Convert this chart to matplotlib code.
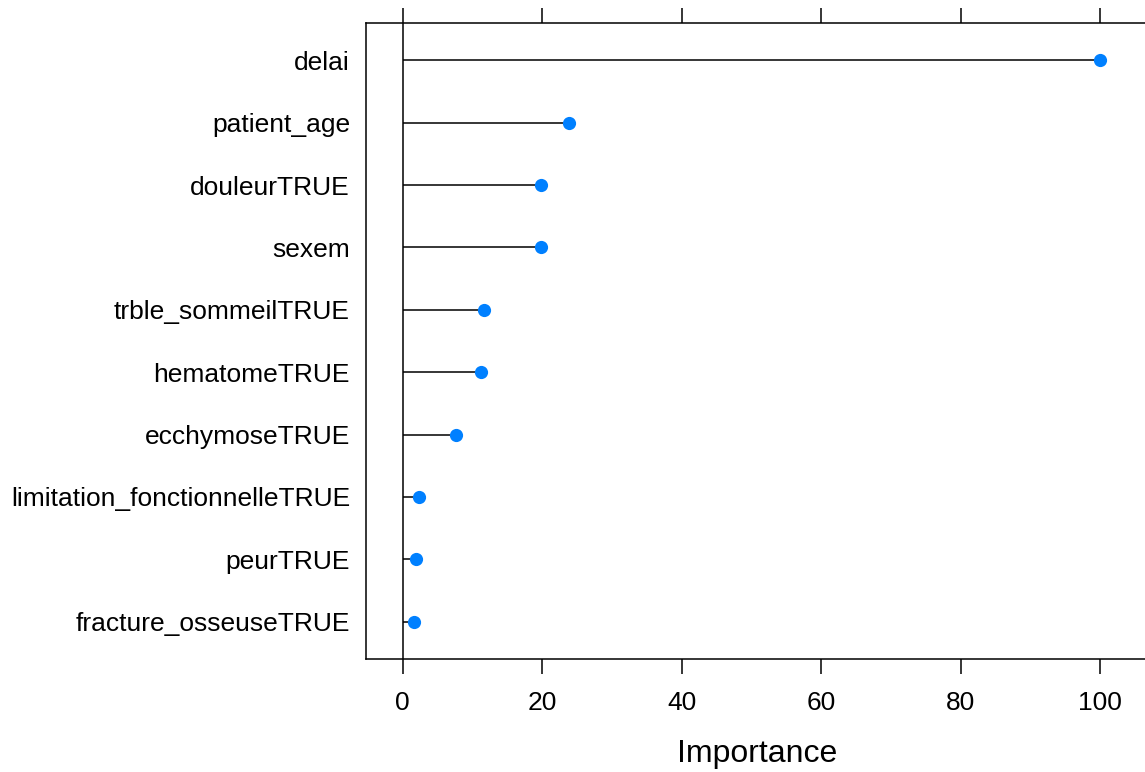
import matplotlib
matplotlib.use("Agg")
from matplotlib import pyplot as plt

# variable importance (caret varImp style), top to bottom
variables = ["delai", "patient_age", "douleurTRUE", "sexem", "trble_sommeilTRUE",
             "hematomeTRUE", "ecchymoseTRUE", "limitation_fonctionnelleTRUE",
             "peurTRUE", "fracture_osseuseTRUE"]
importance = [100, 23.9, 19.9, 19.8, 11.7, 11.2, 7.7, 2.3, 1.9, 1.65]
x_ticks = [0, 20, 40, 60, 80, 100]

plt.rcParams["font.family"] = ["Liberation Sans", "DejaVu Sans"]

fig = plt.figure(figsize=(11.45, 7.72), dpi=100)
ax = fig.add_axes([0.3197, 0.1464, 0.683, 0.8238])

n = len(variables)
ypos = list(range(n, 0, -1))

ax.axvline(0, color="black", lw=1.1, zorder=1)
ax.hlines(ypos, 0, importance, color="black", lw=1.1, zorder=2)
ax.plot(importance, ypos, "o", color="#0080ff", markersize=9.5, markeredgewidth=0, zorder=3)

lo, hi = min(importance), max(importance)
r = hi - lo
ax.set_xlim(lo - 0.07 * r, hi + 0.07 * r)
ax.set_ylim(0.4, n + 0.6)

ax.set_yticks(ypos)
ax.set_yticklabels(variables, fontsize=19)
ax.tick_params(axis="y", length=0, pad=11.5)

ax.set_xticks(x_ticks)
ax.set_xticklabels([str(t) for t in x_ticks], fontsize=19)
ax.tick_params(axis="x", direction="out", length=11, width=1.1, pad=12,
               top=True, labeltop=False)
ax.set_xlabel("Importance", fontsize=23, labelpad=17)

for s in ax.spines.values():
    s.set_linewidth(1.1)
ax.spines["right"].set_visible(False)

fig.savefig("out.png", dpi=100)
